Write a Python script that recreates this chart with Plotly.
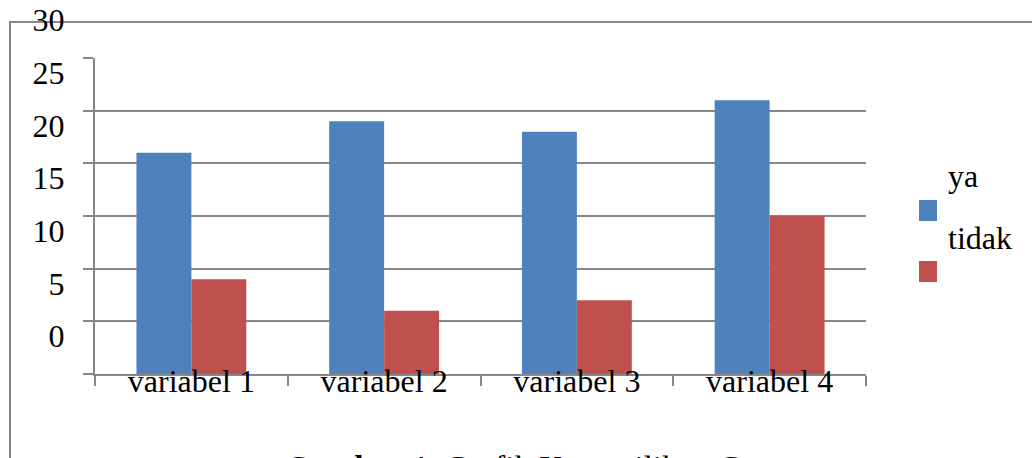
import plotly.graph_objects as go

categories = ["variabel 1", "variabel 2", "variabel 3", "variabel 4"]
ya_values = [21, 24, 23, 26]
tidak_values = [9, 6, 7, 15]
y_tick_values = [0, 5, 10, 15, 20, 25, 30]
y_tick_labels = ["0", "5", "10", "15", "20", "25", "30"]
series_names = ["ya", "tidak"]
series_colors = ["#4F81BD", "#C0504D"]

W, H = 1032, 458
L, R, T, B = 95, 166, 58, 84
pw, ph = W - L - R, H - T - B

def px(x):
    return (x - L) / pw

def py(y):
    return (H - B - y) / ph

FONT = "Times New Roman, Liberation Serif, Tinos, DejaVu Serif, serif"
GRAY = "#878787"

fig = go.Figure()
for name, vals, col in zip(series_names, [ya_values, tidak_values], series_colors):
    fig.add_trace(go.Bar(x=categories, y=vals, name=name, marker=dict(color=col, line=dict(width=0)),
                         showlegend=False))

fig.update_layout(
    width=W, height=H,
    margin=dict(l=L, r=R, t=T, b=B),
    paper_bgcolor="white", plot_bgcolor="white",
    barmode="group", bargap=0.43, bargroupgap=0,
    font=dict(family=FONT, size=32, color="black"),
    xaxis=dict(
        automargin=False,
        showline=True, linecolor=GRAY, linewidth=2,
        ticks="outside", tickson="boundaries", ticklen=10, tickwidth=2, tickcolor=GRAY,
        showgrid=False, ticklabelstandoff=-22,
        tickfont=dict(family=FONT, size=32, color="black"),
    ),
    yaxis=dict(
        automargin=False,
        range=[0, 30], tickvals=y_tick_values, ticktext=y_tick_labels,
        showline=True, linecolor=GRAY, linewidth=2,
        ticks="outside", ticklen=10, tickwidth=2, tickcolor=GRAY,
        showgrid=True, gridcolor=GRAY, gridwidth=2, zeroline=False,
        ticklabelstandoff=12, ticklabelshift=-38,
        tickfont=dict(family=FONT, size=32, color="black"),
    ),
)

# outer chart border (cropped on right and bottom)
fig.add_shape(type="rect", xref="paper", yref="paper",
              x0=px(10), x1=px(1045), y0=py(475), y1=py(22),
              line=dict(color=GRAY, width=2), fillcolor="rgba(0,0,0,0)", layer="below")

# custom legend
legend_text_y = [176, 238]
legend_box_y = [(200, 221), (261, 282)]
for name, col, ty, (b0, b1) in zip(series_names, series_colors, legend_text_y, legend_box_y):
    fig.add_shape(type="rect", xref="paper", yref="paper",
                  x0=px(919), x1=px(937), y0=py(b1), y1=py(b0),
                  line=dict(width=0), fillcolor=col)
    fig.add_annotation(text=name, xref="paper", yref="paper", x=px(946), y=py(ty),
                       xanchor="left", yanchor="middle", showarrow=False,
                       font=dict(family=FONT, size=32, color="black"))

# caption (cut off at bottom)
fig.add_annotation(text="<b>Gambar 1.</b> Grafik Kepemilikan C", xref="paper", yref="paper",
                   x=px(283), y=py(468), xanchor="left", yanchor="middle", showarrow=False,
                   font=dict(family=FONT, size=33, color="black"))

fig.write_html("out.html", config={"displayModeBar": False},
               post_script="document.body.style.margin='0px';")
